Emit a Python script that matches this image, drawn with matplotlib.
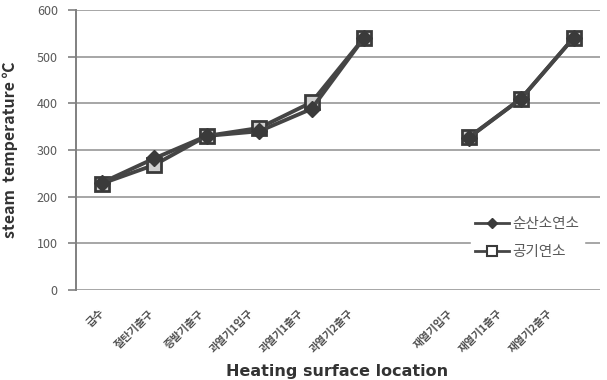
import numpy as np
import matplotlib.pyplot as plt
from matplotlib.lines import Line2D
from matplotlib.transforms import ScaledTranslation

plt.rcParams['font.family'] = ['Noto Sans CJK KR', 'DejaVu Sans']

locations = ['급수', '절탄기출구', '증발기출구', '과열기1입구', '과열기1출구', '과열기2출구',
             '', '재열기입구', '재열기1출구', '재열기2출구']
oxy = [230, 282, 330, 340, 388, 540, np.nan, 326, 410, 540]   # 순산소연소
air = [228, 268, 330, 347, 402, 540, np.nan, 327, 410, 540]   # 공기연소
series_names = ['순산소연소', '공기연소']
yticks = [0, 100, 200, 300, 400, 500, 600]

fig = plt.figure(figsize=(6.07, 3.8), dpi=100)
ax = fig.add_axes([0.125, 0.237, 0.863, 0.737])

x = np.arange(len(locations))
line_col = '#454545'
ax.plot(x, air, color=line_col, lw=2.8, marker='s', ms=10, mfc='#cfcfcf',
        mec='#3a3a3a', mew=2, zorder=3)
ax.plot(x, oxy, color=line_col, lw=2.8, marker='D', ms=8.5, mfc='#3a3a3a',
        mec='#3a3a3a', zorder=4)

ax.set_xlim(-0.5, len(locations) - 0.5)
ax.set_ylim(0, 600)
ax.set_yticks(yticks)
ax.set_xticks(x)
ax.set_xticklabels([])
# rotated category labels, drifting slightly left like the original export
for i, name in enumerate(locations):
    off = ScaledTranslation((-3 - 2.6 * i) / 100, -18 / 100, fig.dpi_scale_trans)
    ax.text(i, 0, name, transform=ax.get_xaxis_transform() + off, rotation=45,
            ha='right', va='top', rotation_mode='anchor', fontsize=7.8,
            color='#505050', fontweight='bold')
ax.tick_params(axis='x', length=0)
ax.tick_params(axis='y', colors='#808080', labelcolor='#595959', labelsize=9, length=6, width=1.2, pad=7)
ax.grid(axis='y', color='#a6a6a6', lw=1.4)
ax.set_axisbelow(True)
for s in ['top', 'right', 'bottom']:
    ax.spines[s].set_visible(False)
ax.spines['left'].set_color('#808080')
ax.spines['left'].set_linewidth(1.4)

ax.set_ylabel('steam  temperature ℃', fontsize=11.5, fontweight='bold', color='#333333')
ax.yaxis.set_label_coords(-0.11, 0.5)
fig.text(337 / 607, 1 / 380, 'Heating surface location', fontsize=11.5, fontweight='bold',
         color='#333333', ha='center', va='bottom', family='DejaVu Sans')

handles = [Line2D([], [], color=line_col, lw=2, marker='D', ms=5, mfc='#3a3a3a', mec='#3a3a3a'),
           Line2D([], [], color=line_col, lw=2, marker='s', ms=7, mfc='white', mec='#3a3a3a', mew=1.5)]
leg = ax.legend(handles, series_names, loc='center left', bbox_to_anchor=(0.74, 0.185),
                frameon=True, fontsize=10.5, handlelength=2.3, handletextpad=0.25,
                labelspacing=1.0, borderpad=0.3, framealpha=1, edgecolor='white')
for t in leg.get_texts():
    t.set_color('#595959')

fig.savefig('out.png', dpi=100)
